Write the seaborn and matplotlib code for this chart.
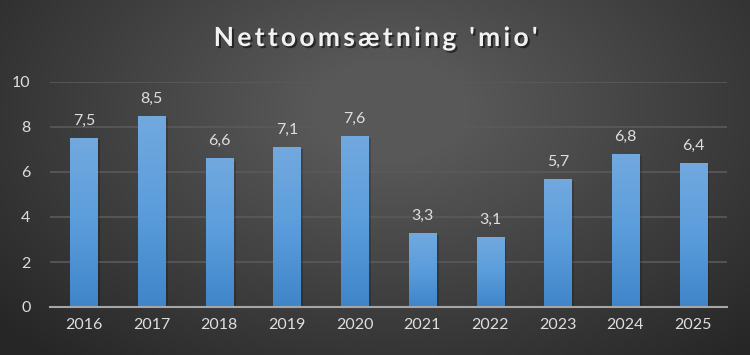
import numpy as np
import pandas as pd
import matplotlib
matplotlib.use("Agg")
import matplotlib.pyplot as plt
import matplotlib.patheffects as pe
from matplotlib.colors import LinearSegmentedColormap
import seaborn as sns

# ─── Data ──────────────────────────────────────────────────
years  = ['2016', '2017', '2018', '2019', '2020',
          '2021', '2022', '2023', '2024', '2025']
values = [7.5, 8.5, 6.6, 7.1, 7.6, 3.3, 3.1, 5.7, 6.8, 6.4]
yticks = [0, 2, 4, 6, 8, 10]

df = pd.DataFrame({'year': years, 'value': values})

sns.set_theme(style='dark')
plt.rcParams['font.family'] = ['Lato', 'DejaVu Sans']

fig = plt.figure(figsize=(7.5, 3.55), dpi=100)

# ─── Radial background ────────────────────────────────────
bg = fig.add_axes([0, 0, 1, 1], zorder=-10)
yy, xx = np.mgrid[0:355, 0:750]
r = np.sqrt(((xx - 390) / 520) ** 2 + ((yy - 110) / 330) ** 2)
shade = np.clip(1 - r, 0, 1)
bg_cmap = LinearSegmentedColormap.from_list('bg', ['#262626', '#585858'])
bg.imshow(shade, cmap=bg_cmap, aspect='auto', extent=[0, 1, 0, 1],
          vmin=0, vmax=0.85)
bg.set_axis_off()

# ─── Bars ──────────────────────────────────────────────────
ax = fig.add_axes([50 / 750, 1 - 307 / 355, 677 / 750, 225 / 355])
ax.set_facecolor('none')
sns.barplot(data=df, x='year', y='value', ax=ax, width=0.4,
            color='#5b9bd5', saturation=1, zorder=3)

bar_cmap = LinearSegmentedColormap.from_list('bar', ['#3f85c9', '#5b9ddc', '#72a9df'])
grad = np.linspace(0, 1, 256).reshape(-1, 1)
for p in ax.patches:
    x0, w, h = p.get_x(), p.get_width(), p.get_height()
    p.set_facecolor('none')
    p.set_edgecolor('none')
    p.set_path_effects([pe.SimplePatchShadow(offset=(2, -1.5), shadow_rgbFace='black', alpha=0.18)])
    im = ax.imshow(grad, cmap=bar_cmap, aspect='auto', origin='lower',
                   extent=[x0, x0 + w, 0, h], zorder=3)
    im.set_clip_path(p)
    ax.text(x0 + w / 2, h + 0.45, f'{h:.1f}'.replace('.', ','),
            ha='center', va='bottom', color='#dedede', fontsize=11.5, zorder=4)

ax.set_xlim(-0.5, len(years) - 0.5)
ax.set_ylim(0, 10)
ax.set_yticks(yticks)
ax.set_xlabel('')
ax.set_ylabel('')
ax.grid(axis='y', color='#5a5a5a', linewidth=1.2, zorder=0)
ax.grid(axis='x', visible=False)
for s in ['top', 'right', 'left']:
    ax.spines[s].set_visible(False)
ax.spines['bottom'].set_color('#a6a6a6')
ax.spines['bottom'].set_linewidth(1.5)
ax.spines['bottom'].set_zorder(5)
ax.tick_params(axis='both', colors='#dedede', labelsize=11.5, length=0)
ax.tick_params(axis='y', pad=14)
ax.tick_params(axis='x', pad=8)

# ─── Title ─────────────────────────────────────────────────
title = '\u2009'.join("Nettoomsætning 'mio'")
fig.text(0.5, 1 - 38 / 355, title, ha='center', va='center',
         color='#f2f2f2', fontsize=19, fontweight='bold',
         path_effects=[pe.withSimplePatchShadow(offset=(1.5, -1.5), shadow_rgbFace='black', alpha=0.5)])

fig.savefig('out.png', dpi=100)
